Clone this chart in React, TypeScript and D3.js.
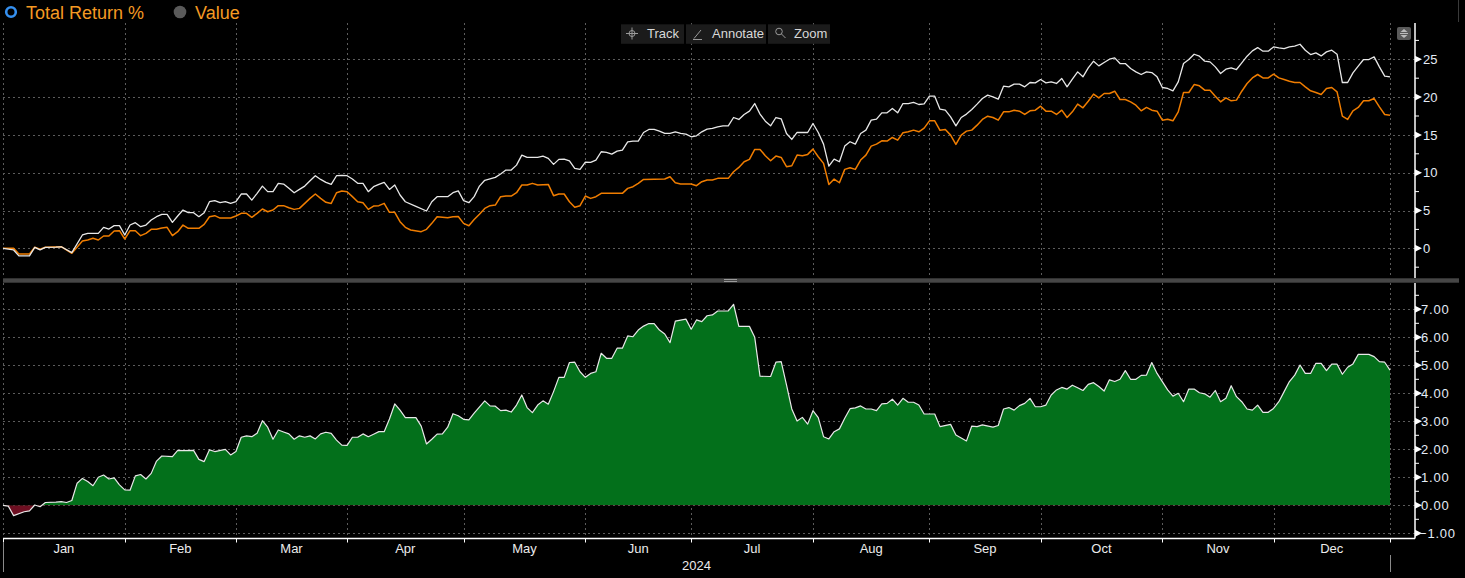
import React from "react";
import * as d3 from "d3";

// x position = weekday index inside 2024 (0 = Jan 1)
const whiteDays = [0, 2, 3, 5, 6, 7, 8, 10, 11, 13, 15, 16, 18, 19, 20, 21, 22, 23, 24, 25, 26, 27, 28, 29, 30, 31, 32, 33, 34, 35, 36, 37, 38, 39, 40, 41, 42, 43, 44, 45, 46, 47, 48, 49, 50, 51, 52, 53, 54, 55, 56, 57, 58, 59, 60, 61, 62, 63, 64, 65, 66, 67, 68, 69, 70, 71, 72, 73, 74, 75, 76, 78, 80, 81, 82, 84, 85, 86, 87, 88, 89, 90, 91, 93, 94, 95, 96, 97, 98, 99, 101, 102, 103, 104, 105, 106, 107, 108, 109, 110, 111, 112, 113, 114, 115, 116, 117, 118, 119, 120, 121, 122, 123, 124, 125, 126, 127, 128, 129, 130, 131, 132, 133, 134, 135, 136, 137, 138, 139, 140, 141, 142, 143, 144, 145, 146, 147, 148, 149, 150, 152, 153, 154, 155, 156, 157, 158, 159, 160, 161, 162, 163, 164, 165, 166, 167, 168, 169, 170, 171, 172, 173, 174, 175, 176, 177, 178, 179, 180, 181, 182, 183, 184, 185, 186, 187, 188, 189, 190, 191, 192, 193, 194, 195, 196, 197, 198, 199, 200, 201, 202, 203, 204, 205, 206, 207, 208, 209, 210, 211, 212, 213, 214, 215, 216, 217, 218, 219, 220, 221, 222, 223, 224, 225, 226, 227, 228, 229, 230, 231, 232, 233, 234, 235, 236, 237, 238, 239, 240, 241, 242, 243, 244, 245, 246, 247, 248, 249, 250, 251, 252, 253, 254, 255, 256, 257, 258, 259, 260, 261, 262];
const whiteValues = [0, -0.22, -1.0, -1.0, 0.13, -0.2, 0.13, 0.15, 0.2, -0.57, 1.76, 1.98, 1.98, 2.77, 2.55, 3.0, 3.0, 1.76, 3.08, 3.39, 2.86, 3.08, 3.74, 4.18, 4.49, 4.49, 3.43, 4.27, 5.06, 4.71, 4.71, 4.18, 4.71, 6.16, 6.3, 6.03, 6.16, 5.94, 6.16, 7.18, 7.18, 6.38, 7.27, 8.23, 7.49, 7.49, 8.59, 8.5, 7.93, 7.35, 7.79, 8.23, 8.94, 9.6, 9.11, 8.72, 8.45, 9.6, 9.64, 9.6, 9.16, 8.59, 8.59, 7.49, 8.15, 8.45, 8.72, 7.79, 8.37, 7.05, 6.16, 5.55, 4.93, 6.16, 6.83, 6.83, 7.35, 7.6, 6.3, 6.03, 6.83, 8.23, 9.0, 9.38, 9.82, 10.35, 10.35, 11.0, 12.33, 12.02, 12.02, 12.2, 11.89, 11.1, 11.76, 11.8, 11.58, 10.57, 10.44, 11.4, 11.36, 11.67, 12.77, 12.68, 12.46, 12.86, 12.99, 14.09, 14.18, 14.18, 15.32, 15.72, 15.72, 15.5, 15.19, 15.19, 15.41, 15.19, 15.1, 14.75, 14.88, 15.41, 15.76, 15.85, 16.07, 16.2, 16.2, 17.3, 17.04, 17.7, 18.14, 19.15, 17.75, 16.82, 16.2, 17.3, 17.13, 15.19, 14.4, 15.32, 15.32, 16.51, 15.32, 13.78, 10.88, 11.8, 11.45, 13.52, 14.09, 13.78, 15.19, 15.63, 16.95, 17.08, 17.92, 17.92, 18.49, 17.92, 19.15, 19.15, 19.29, 19.02, 19.1, 20.12, 20.12, 18.4, 18.27, 17.39, 16.2, 17.3, 17.75, 18.36, 19.07, 19.82, 20.26, 20.04, 19.73, 21.44, 21.36, 21.71, 21.71, 21.36, 21.93, 21.88, 22.32, 21.88, 22.02, 21.8, 22.46, 21.36, 22.37, 23.34, 22.68, 23.87, 24.75, 24.13, 24.57, 25.01, 25.19, 24.44, 24.44, 23.78, 23.34, 22.99, 23.34, 23.25, 22.68, 21.27, 21.14, 20.83, 22.02, 24.44, 24.97, 25.67, 25.41, 24.75, 24.66, 24.0, 23.12, 23.69, 23.87, 23.65, 24.53, 25.41, 26.11, 26.55, 26.07, 26.07, 26.64, 26.51, 26.42, 26.64, 26.73, 26.99, 26.2, 25.63, 25.85, 25.45, 25.98, 26.2, 25.67, 21.93, 21.93, 23.21, 24.09, 24.97, 24.97, 25.32, 24.0, 22.77, 22.68];

const orangeDays = [0, 2, 3, 5, 6, 7, 8, 11, 13, 15, 16, 17, 18, 19, 20, 21, 22, 23, 24, 25, 26, 27, 28, 29, 30, 31, 32, 33, 34, 35, 37, 38, 39, 40, 41, 43, 44, 45, 46, 47, 48, 49, 50, 51, 52, 53, 54, 55, 56, 57, 58, 59, 60, 61, 62, 63, 64, 65, 66, 67, 68, 69, 70, 71, 72, 73, 74, 75, 76, 77, 79, 80, 81, 82, 84, 85, 86, 87, 88, 89, 90, 91, 92, 93, 94, 95, 96, 97, 98, 99, 100, 101, 103, 104, 105, 106, 107, 108, 109, 110, 111, 112, 113, 117, 118, 119, 120, 121, 125, 126, 127, 128, 130, 131, 132, 133, 134, 135, 137, 138, 139, 140, 141, 142, 143, 144, 145, 146, 147, 148, 149, 150, 151, 152, 153, 154, 155, 156, 157, 158, 159, 160, 161, 162, 163, 164, 165, 166, 167, 168, 169, 170, 171, 172, 173, 174, 175, 176, 177, 178, 179, 180, 181, 182, 183, 184, 185, 186, 187, 188, 189, 190, 191, 192, 193, 194, 195, 196, 197, 198, 199, 200, 201, 202, 203, 204, 205, 206, 207, 208, 209, 210, 211, 212, 213, 214, 215, 216, 217, 218, 219, 220, 221, 222, 223, 224, 225, 226, 227, 228, 229, 230, 231, 232, 233, 234, 235, 236, 237, 238, 239, 240, 241, 242, 243, 244, 245, 246, 247, 248, 249, 250, 251, 252, 253, 254, 255, 256, 257, 258, 259, 260, 261, 262];
const orangeValues = [0, 0, -0.75, -0.75, 0.13, -0.13, 0.13, 0.22, -0.66, 0.97, 1.1, 1.32, 1.1, 1.63, 1.63, 2.29, 2.33, 1.23, 2.33, 2.33, 1.67, 1.98, 2.51, 2.51, 2.69, 2.77, 1.67, 2.2, 3.08, 2.64, 2.64, 3.17, 4.18, 4.32, 4.0, 4.0, 4.27, 4.62, 4.62, 4.1, 4.62, 5.2, 4.84, 5.06, 5.64, 5.64, 5.37, 5.15, 5.28, 5.94, 6.6, 7.18, 6.6, 6.08, 5.94, 7.35, 7.57, 7.49, 6.83, 6.16, 6.03, 5.15, 5.59, 5.64, 5.94, 4.76, 4.76, 3.52, 2.77, 2.42, 2.2, 2.51, 3.3, 4.18, 4.05, 4.18, 4.2, 3.3, 2.99, 3.8, 4.5, 5.28, 5.64, 5.72, 6.83, 6.91, 6.91, 7.35, 8.37, 8.37, 8.59, 8.37, 8.45, 6.96, 7.18, 7.18, 6.16, 5.42, 5.64, 6.91, 6.6, 6.83, 7.27, 7.27, 7.93, 8.15, 8.59, 9.11, 9.16, 9.47, 8.67, 8.5, 8.5, 8.28, 8.81, 9.03, 9.03, 9.25, 9.25, 10.13, 10.7, 11.45, 11.76, 13.08, 13.08, 12.24, 11.58, 12.2, 12.02, 10.79, 10.92, 12.33, 12.24, 12.42, 13.12, 12.11, 11.23, 8.45, 9.16, 8.67, 10.44, 10.66, 10.44, 11.67, 12.33, 13.52, 13.78, 14.22, 14.18, 14.66, 14.31, 15.28, 15.41, 15.63, 15.41, 15.9, 16.86, 16.86, 15.6, 15.72, 14.97, 13.74, 14.97, 15.5, 15.63, 16.29, 17.04, 17.48, 17.3, 16.95, 18.05, 18.05, 18.27, 18.14, 17.7, 18.19, 18.27, 18.8, 18.14, 18.14, 17.7, 18.27, 17.3, 18.05, 19.07, 18.58, 19.46, 20.39, 19.9, 20.48, 20.48, 20.78, 19.68, 19.68, 19.37, 18.93, 18.19, 18.63, 18.27, 18.14, 16.95, 17.08, 16.86, 18.05, 20.61, 20.61, 21.66, 21.49, 20.92, 20.92, 20.12, 19.37, 19.9, 19.51, 19.6, 20.78, 21.8, 22.54, 22.99, 22.54, 22.54, 23.03, 22.54, 22.32, 22.1, 21.93, 21.93, 21.36, 20.83, 20.61, 20.34, 21.14, 21.27, 20.7, 17.48, 17.04, 18.19, 18.63, 19.51, 19.51, 19.81, 18.71, 17.7, 17.61];

const spreadDays = [0, 1, 2, 4, 5, 6, 7, 8, 10, 11, 12, 13, 14, 15, 16, 17, 18, 19, 20, 21, 22, 23, 24, 25, 26, 27, 28, 29, 30, 32, 33, 34, 36, 37, 38, 39, 40, 42, 43, 44, 45, 46, 47, 48, 49, 50, 51, 52, 53, 54, 55, 56, 57, 58, 59, 60, 61, 62, 63, 64, 65, 66, 67, 68, 69, 70, 71, 72, 73, 74, 75, 76, 78, 79, 80, 81, 82, 83, 84, 85, 86, 87, 88, 89, 91, 92, 93, 94, 95, 96, 97, 98, 99, 100, 101, 102, 103, 104, 105, 106, 107, 108, 109, 110, 111, 112, 113, 114, 115, 116, 117, 118, 119, 120, 121, 122, 123, 124, 125, 126, 127, 129, 130, 131, 132, 133, 134, 135, 137, 138, 139, 141, 142, 143, 145, 146, 147, 148, 149, 150, 151, 152, 153, 154, 155, 156, 157, 158, 159, 160, 161, 162, 163, 164, 165, 166, 167, 168, 169, 170, 171, 172, 173, 174, 176, 177, 179, 180, 182, 183, 184, 185, 187, 188, 189, 190, 191, 192, 193, 194, 195, 196, 197, 198, 199, 200, 201, 202, 203, 204, 205, 206, 207, 208, 209, 210, 211, 212, 213, 214, 215, 216, 217, 218, 220, 221, 222, 223, 224, 225, 226, 227, 228, 229, 230, 231, 232, 233, 234, 235, 236, 237, 238, 239, 240, 241, 242, 243, 244, 245, 246, 247, 248, 249, 250, 251, 252, 253, 254, 255, 256, 258, 259, 260, 261, 262];
const spreadValues = [0, -0.03, -0.37, -0.23, -0.2, 0.01, -0.05, 0.1, 0.11, 0.13, 0.1, 0.17, 0.79, 0.96, 0.85, 0.7, 1.0, 1.08, 0.94, 0.98, 0.73, 0.55, 0.54, 1.05, 1.1, 0.94, 1.14, 1.58, 1.76, 1.74, 1.96, 1.95, 1.96, 1.64, 1.56, 1.98, 1.92, 2.0, 1.8, 1.92, 2.43, 2.48, 2.45, 2.57, 3.02, 2.79, 2.36, 2.69, 2.62, 2.55, 2.36, 2.48, 2.43, 2.48, 2.37, 2.55, 2.61, 2.57, 2.33, 2.15, 2.14, 2.43, 2.43, 2.55, 2.45, 2.54, 2.63, 2.63, 3.08, 3.62, 3.4, 3.13, 3.13, 2.83, 2.19, 2.36, 2.54, 2.55, 2.79, 3.27, 3.2, 3.07, 3.05, 3.29, 3.73, 3.55, 3.54, 3.38, 3.4, 3.33, 3.58, 3.94, 3.49, 3.31, 3.58, 3.73, 3.61, 4.06, 4.57, 4.57, 5.1, 5.11, 4.77, 4.57, 4.71, 4.77, 5.43, 5.25, 5.25, 5.61, 5.61, 6.05, 6.02, 6.26, 6.4, 6.49, 6.49, 6.26, 6.12, 5.81, 6.58, 6.65, 6.29, 6.62, 6.56, 6.77, 6.8, 6.94, 6.94, 7.18, 6.39, 6.39, 6.0, 4.61, 4.6, 5.11, 5.13, 4.3, 3.44, 3.01, 3.14, 2.9, 3.38, 3.13, 2.45, 2.37, 2.63, 2.73, 3.11, 3.45, 3.48, 3.55, 3.44, 3.44, 3.38, 3.62, 3.64, 3.79, 3.58, 3.82, 3.68, 3.68, 3.58, 3.26, 3.26, 2.81, 2.89, 2.51, 2.3, 2.83, 2.81, 2.87, 2.79, 2.85, 3.44, 3.49, 3.4, 3.56, 3.64, 3.82, 3.52, 3.52, 3.58, 3.94, 4.12, 4.21, 4.15, 4.29, 4.2, 4.1, 4.32, 4.38, 4.24, 4.08, 4.48, 4.42, 4.5, 4.81, 4.5, 4.5, 4.64, 4.65, 5.1, 4.71, 4.12, 3.9, 4.0, 3.7, 4.15, 4.15, 4.02, 3.98, 3.86, 4.1, 3.7, 3.82, 4.27, 3.88, 3.7, 3.44, 3.4, 3.58, 3.32, 3.32, 3.46, 3.7, 4.06, 4.42, 4.65, 5.01, 4.71, 4.71, 5.07, 5.07, 4.81, 5.04, 5.04, 4.68, 4.93, 5.05, 5.39, 5.39, 5.31, 5.13, 5.11, 4.83];

const monthLabels = ["Jan", "Feb", "Mar", "Apr", "May", "Jun", "Jul", "Aug", "Sep", "Oct", "Nov", "Dec"];
const monthStartDays = [0, 23, 44, 65, 87, 110, 130, 153, 175, 196, 219, 240, 262];
const yearLabel = "2024";
const topTicks = [0, 5, 10, 15, 20, 25];
const topMinorTicks = [-2.5, 2.5, 7.5, 12.5, 17.5, 22.5, 27.5];
const lowTicks = [-1, 0, 1, 2, 3, 4, 5, 6, 7];
const lowMinorTicks = [-0.5, 0.5, 1.5, 2.5, 3.5, 4.5, 5.5, 6.5, 7.5];
const legendItems = ["Total Return %", "Value"];
const toolbarItems = ["Track", "Annotate", "Zoom"];

const W = 1465;
const H = 578;
const FONT = "'Liberation Sans', Arial, sans-serif";
const GRID = "#5c5c5c";
const AXIS_X = 1415;
const TOP_Y0 = 23;
const TOP_Y1 = 278;
const LOW_Y0 = 283;
const LOW_Y1 = 538.5;

type Pt = { d: number; v: number };
const zip = (days: number[], vals: number[]): Pt[] => days.map((d, i) => ({ d, v: vals[i] }));

export default function App() {
  const x = d3.scaleLinear().domain([0, 262]).range([3, 1390]);
  const yTop = d3.scaleLinear().domain([0, 25]).range([248.3, 59.3]);
  const yLow = d3.scaleLinear().domain([0, 7]).range([505.3, 309.3]);

  const white = zip(whiteDays, whiteValues);
  const orange = zip(orangeDays, orangeValues);
  const spread = zip(spreadDays, spreadValues);

  const topLine = d3.line<Pt>().x(p => x(p.d)).y(p => yTop(p.v));
  const lowLine = d3.line<Pt>().x(p => x(p.d)).y(p => yLow(p.v));
  const lowArea = d3.area<Pt>().x(p => x(p.d)).y0(yLow(0)).y1(p => yLow(p.v));

  const fmt2 = d3.format(".2f");
  const xMid = (x(monthStartDays[0]) + x(monthStartDays[12])) / 2;

  const tri = (y: number) => `M${AXIS_X},${y - 3.5}L${AXIS_X + 7},${y}L${AXIS_X},${y + 3.5}Z`;

  // toolbar button boxes
  const btn = [
    { x: 621, w: 63 },
    { x: 686, w: 80 },
    { x: 768, w: 62 },
  ];

  return (
    <svg width={W} height={H} style={{ position: "fixed", left: 0, top: 0, background: "#000" }} fontFamily={FONT}>
      <defs>
        <clipPath id="posClip">
          <rect x={0} y={0} width={W} height={yLow(0)} />
        </clipPath>
        <clipPath id="negClip">
          <rect x={0} y={yLow(0)} width={W} height={H - yLow(0)} />
        </clipPath>
      </defs>
      <rect width={W} height={H} fill="#000" />

      {/* vertical grid */}
      {monthStartDays.map((d, i) => (
        <g key={"vg" + i} stroke={GRID} strokeDasharray="2,3" strokeWidth={1}>
          <line x1={Math.round(x(d)) + 0.5} x2={Math.round(x(d)) + 0.5} y1={TOP_Y0} y2={TOP_Y1} />
          <line x1={Math.round(x(d)) + 0.5} x2={Math.round(x(d)) + 0.5} y1={LOW_Y0} y2={LOW_Y1} />
        </g>
      ))}
      {/* horizontal grid */}
      {topTicks.map(t => (
        <line key={"tg" + t} x1={3} x2={AXIS_X} y1={Math.round(yTop(t)) + 0.5} y2={Math.round(yTop(t)) + 0.5} stroke={GRID} strokeDasharray="2,3" />
      ))}
      {lowTicks.map(t => (
        <line key={"lg" + t} x1={3} x2={AXIS_X} y1={Math.round(yLow(t)) + 0.5} y2={Math.round(yLow(t)) + 0.5} stroke={GRID} strokeDasharray="2,3" />
      ))}

      {/* top panel lines */}
      <path d={topLine(orange) || ""} fill="none" stroke="#f07d00" strokeWidth={1.5} strokeLinejoin="round" />
      <path d={topLine(white) || ""} fill="none" stroke="#e8e8e8" strokeWidth={1.3} strokeLinejoin="round" />

      {/* lower panel spread area */}
      <path d={lowArea(spread) || ""} fill="#03701b" clipPath="url(#posClip)" />
      <path d={lowArea(spread) || ""} fill="#6e0f22" clipPath="url(#negClip)" />
      <path d={lowLine(spread) || ""} fill="none" stroke="#e8e8e8" strokeWidth={1.2} strokeLinejoin="round" />

      {/* panel separator */}
      <rect x={3} y={278.3} width={1456} height={4.4} fill="#464646" />
      <line x1={724} x2={737} y1={279.5} y2={279.5} stroke="#9a9a9a" strokeWidth={1} />
      <line x1={724} x2={737} y1={281.5} y2={281.5} stroke="#9a9a9a" strokeWidth={1} />

      {/* right axes */}
      <line x1={AXIS_X} x2={AXIS_X} y1={TOP_Y0} y2={TOP_Y1} stroke="#fff" strokeWidth={1.5} />
      <line x1={AXIS_X} x2={AXIS_X} y1={LOW_Y0} y2={LOW_Y1} stroke="#fff" strokeWidth={1.5} />
      {topMinorTicks.map(t => (
        <line key={"tm" + t} x1={AXIS_X} x2={AXIS_X + 4} y1={yTop(t)} y2={yTop(t)} stroke="#fff" />
      ))}
      {lowMinorTicks.map(t => (
        <line key={"lm" + t} x1={AXIS_X} x2={AXIS_X + 4} y1={yLow(t)} y2={yLow(t)} stroke="#fff" />
      ))}
      {topTicks.map(t => (
        <g key={"tt" + t}>
          <path d={tri(yTop(t))} fill="#fff" />
          <text x={AXIS_X + 8} y={yTop(t) + 4.6} fontSize={13} fill="#e4ecf6">{t}</text>
        </g>
      ))}
      {lowTicks.map(t => (
        <g key={"lt" + t}>
          <path d={tri(yLow(t))} fill="#fff" />
          <text x={t < 0 ? AXIS_X + 4 : AXIS_X + 6} y={yLow(t) + 4.6} fontSize={13} letterSpacing={0.8} fill="#e4ecf6">{fmt2(t)}</text>
        </g>
      ))}

      {/* bottom x axis */}
      <line x1={3} x2={AXIS_X} y1={LOW_Y1} y2={LOW_Y1} stroke="#fff" strokeWidth={1.5} />
      {monthStartDays.map((d, i) => (
        <line key={"xt" + i} x1={Math.round(x(d)) + 0.5} x2={Math.round(x(d)) + 0.5} y1={LOW_Y1} y2={LOW_Y1 + 4} stroke="#fff" />
      ))}
      {monthLabels.map((m, i) => (
        <text key={m} x={(x(monthStartDays[i]) + x(monthStartDays[i + 1])) / 2} y={553} fontSize={13} fill="#ececec" textAnchor="middle">{m}</text>
      ))}
      <text x={xMid} y={570} fontSize={13} fill="#ececec" textAnchor="middle">{yearLabel}</text>
      <line x1={3.5} x2={3.5} y1={542} y2={572} stroke="#8a8a8a" />
      <line x1={1390.5} x2={1390.5} y1={555} y2={572} stroke="#8a8a8a" />
      <line x1={1458.5} x2={1458.5} y1={0} y2={22} stroke="#3a3a3a" />

      {/* legend */}
      <circle cx={11} cy={12} r={4.8} fill="#000" stroke="#3590f0" strokeWidth={2.6} />
      <text x={26} y={18.5} fontSize={18} fill="#f59a23">{legendItems[0]}</text>
      <circle cx={180} cy={12} r={6.3} fill="#5a5a5a" />
      <text x={195} y={18.5} fontSize={18} fill="#f59a23">{legendItems[1]}</text>

      {/* toolbar */}
      {btn.map((b, i) => (
        <rect key={"b" + i} x={b.x} y={24.3} width={b.w} height={19.5} fill="#1b1b1b" />
      ))}
      <g stroke="#9a9a9a" fill="none" strokeWidth={1}>
        <circle cx={632} cy={33.5} r={3} />
        <line x1={626} x2={638} y1={33.5} y2={33.5} />
        <line x1={632} x2={632} y1={27.5} y2={39.5} />
        <line x1={694} x2={701} y1={38.5} y2={30} />
        <line x1={693} x2={702} y1={39.5} y2={39.5} />
        <circle cx={779} cy={31.5} r={3.3} />
        <line x1={781.5} x2={785.5} y1={34} y2={38} />
      </g>
      <text x={647} y={38} fontSize={13} fill="#d8d8d8">{toolbarItems[0]}</text>
      <text x={712} y={38} fontSize={13} fill="#d8d8d8">{toolbarItems[1]}</text>
      <text x={794} y={38} fontSize={13} fill="#d8d8d8">{toolbarItems[2]}</text>

      {/* panel size button */}
      <rect x={1397} y={27} width={14} height={13} rx={2} fill="#5a5a5a" />
      <path d="M1400.5,32L1404,29L1407.5,32Z" fill="#bdbdbd" />
      <line x1={1400} x2={1408} y1={33.5} y2={33.5} stroke="#bdbdbd" />
      <path d="M1400.5,35L1404,38L1407.5,35Z" fill="#bdbdbd" />
    </svg>
  );
}
